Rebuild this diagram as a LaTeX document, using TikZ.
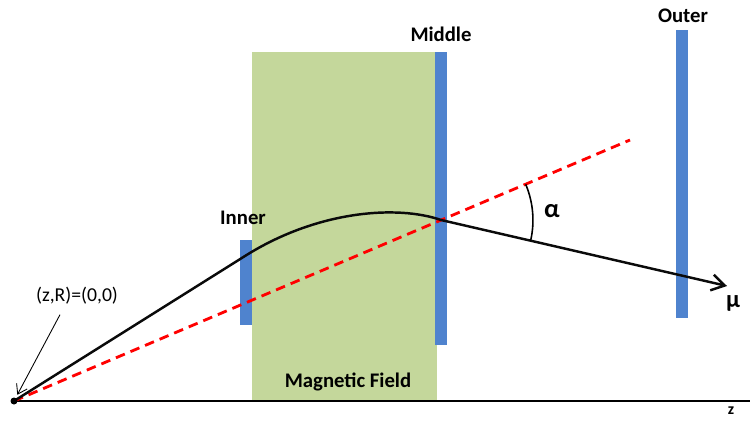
\documentclass[tikz,border=0pt]{standalone}
\usepackage{fontspec}
\setmainfont{Carlito}
\usetikzlibrary{arrows.meta,calc}
\definecolor{fieldgreen}{RGB}{196,215,155}
\definecolor{layerblue}{RGB}{79,131,206}
\definecolor{lineblack}{RGB}{10,10,10}

\begin{document}
\begin{tikzpicture}[
    x=0.02cm, y=-0.02cm,
    layer/.style={fill=layerblue},
    lbl/.style={font=\bfseries\fontsize{11.8}{14}\selectfont, inner sep=0pt},
    track/.style={line width=1.4pt, lineblack},
    straightline/.style={red, line width=1.6pt, dash pattern=on 5.5pt off 3.5pt}
  ]
    \useasboundingbox (0,0) rectangle (750,422);
    \fill[fieldgreen] (252,52) rectangle (437,400);
    \fill[layer] (240,240) rectangle (252,325);
    \fill[layer] (435,52) rectangle (447,345);
    \fill[layer] (676,30) rectangle (688,318);
    \coordinate (o) at (14,401);
    \coordinate (zend) at (750,401);
    \coordinate (hitinner) at (245,256);
    \coordinate (hitmiddle) at (441,220);
    \coordinate (mutip) at (727,286);
    \coordinate (dashend) at (630,140);
    \draw[line width=1.1pt] (o) -- (zend);
    \draw[straightline] (o) -- (dashend);
    \draw[track] (o) -- (hitinner) .. controls (318,210) and (398,205) .. (hitmiddle);
    \draw[track, -{Straight Barb[length=2.6mm, width=3.2mm]}] (hitmiddle) -- (mutip);
    \draw[line width=0.9pt] ($(hitmiddle)!1.84cm!(mutip)$) arc[start angle=-12.9, end angle=22.9, radius=1.84cm];
    \fill (o) circle (3.5);
    \node[lbl] (inner) at (243,218) {Inner};
    \node[lbl] (middle) at (441,34) {Middle};
    \node[lbl] (outer) at (683,16) {Outer};
    \node[lbl] (field) at (348,382) {Magnetic Field};
    \node[lbl, font=\bfseries\fontsize{9}{11}\selectfont] (zlabel) at (731,411) {z};
    \node[lbl, font=\bfseries\fontsize{14}{16}\selectfont] (mu) at (733,303) {μ};
    \node[lbl, font=\bfseries\fontsize{15}{17}\selectfont] (alpha) at (552,211) {α};
    \node[font=\fontsize{11.2}{13}\selectfont, inner sep=1pt] (origin) at (77,296) {(z,R)=(0,0)};
    \draw[-{Straight Barb[length=1.8mm, width=2.4mm]}, line width=0.5pt, shorten >=4pt] ($(origin.south)+(-17,8)$) -- (o);
  \end{tikzpicture}
\end{document}
